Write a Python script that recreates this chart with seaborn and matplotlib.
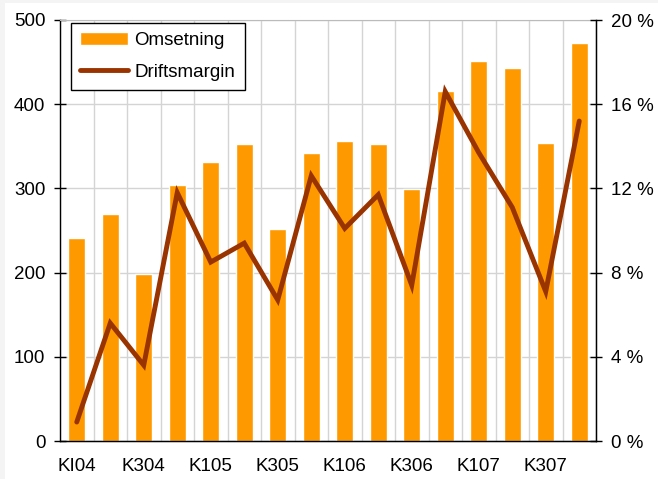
import numpy as np
import pandas as pd
import matplotlib
matplotlib.use('Agg')
import matplotlib.pyplot as plt
import seaborn as sns
from matplotlib.ticker import FuncFormatter, FixedLocator
from matplotlib.patches import Rectangle

# Quarterly data
quarters = ['KI04', 'K204', 'K304', 'K404', 'K105', 'K205', 'K305', 'K405',
            'K106', 'K206', 'K306', 'K406', 'K107', 'K207', 'K307', 'K407']
omsetning = [241, 270, 198, 304, 331, 353, 252, 342,
             356, 353, 299, 416, 451, 443, 354, 473]
driftsmargin = [0.9, 5.6, 3.6, 11.8, 8.5, 9.4, 6.7, 12.6,
                10.1, 11.7, 7.4, 16.6, 13.7, 11.1, 7.1, 15.2]

df = pd.DataFrame({'kvartal': quarters, 'omsetning': omsetning,
                   'margin': driftsmargin, 'pos': np.arange(len(quarters))})

sns.set_style('white')
plt.rcParams['font.family'] = ['Liberation Sans', 'DejaVu Sans']
plt.rcParams['text.color'] = 'black'
plt.rcParams['xtick.color'] = 'black'
plt.rcParams['ytick.color'] = 'black'
FS = 13.5

fig = plt.figure(figsize=(6.58, 4.79), dpi=100, facecolor='#f4f4f4')
# white canvas with a thin grey frame on top/left, as in the screenshot
fig.patches.append(Rectangle((5 / 658, 0), 1, 1 - 3 / 479, transform=fig.transFigure,
                             facecolor='white', edgecolor='none', zorder=-10))
ax = fig.add_axes([60 / 658, 1 - 441 / 479, 536 / 658, 421 / 479])

sns.barplot(data=df, x='kvartal', y='omsetning', color='#FF9900', saturation=1,
            width=0.5, ax=ax, label='Omsetning')
ax.set_xlim(-0.5, len(quarters) - 0.5)
ax.set_ylim(0, 500)
ax.set_yticks(range(0, 501, 100))
ax.set_xlabel('')
ax.set_ylabel('')

# category boundaries as minor ticks/grid, labels on every other bar
ax.xaxis.set_minor_locator(FixedLocator(np.arange(-0.5, len(quarters), 1)))
ax.set_xticks(np.arange(0, len(quarters), 2))
ax.set_xticklabels(quarters[::2])
ax.tick_params(axis='x', which='major', length=0, pad=12, labelsize=FS)
ax.tick_params(axis='x', which='minor', direction='inout', length=7, width=1, color='black')
ax.tick_params(axis='y', direction='inout', length=9, width=1, color='black', labelsize=FS, pad=6)
ax.grid(True, axis='x', which='minor', color='#d4d4d4', lw=1)
ax.grid(True, axis='y', which='major', color='#d4d4d4', lw=1)
ax.set_axisbelow(True)
ax.patch.set_alpha(0)
for s in ['left', 'bottom', 'right']:
    ax.spines[s].set_color('black')
    ax.spines[s].set_linewidth(1)
ax.spines['top'].set_color('#bbbbbb')

ax2 = ax.twinx()
sns.lineplot(data=df, x='pos', y='margin', color='#993300', lw=3.5, ax=ax2,
             label='Driftsmargin', solid_capstyle='round', solid_joinstyle='miter')
ax2.set_ylim(0, 20)
ax2.set_yticks(range(0, 21, 4))
ax2.yaxis.set_major_formatter(FuncFormatter(lambda v, p: f'{int(v)} %'))
ax2.tick_params(axis='y', direction='inout', length=9, width=1, color='black', labelsize=FS, pad=6)
ax2.set_ylabel('')
ax2.set_xlabel('')
ax2.set_xlim(-0.5, len(quarters) - 0.5)
for s in ['left', 'top']:
    ax2.spines[s].set_visible(False)
ax2.spines['right'].set_color('black')
ax2.spines['bottom'].set_color('black')

h1, l1 = ax.get_legend_handles_labels()
h2, l2 = ax2.get_legend_handles_labels()
if ax.get_legend():
    ax.get_legend().remove()
leg = ax2.legend(h1 + h2, l1 + l2, loc='upper left', bbox_to_anchor=(0.02, 0.993),
                 borderaxespad=0, fancybox=False, framealpha=1, edgecolor='black',
                 fontsize=FS, handlelength=2.55, handletextpad=0.35,
                 labelspacing=0.75, borderpad=0.5)
leg.get_frame().set_linewidth(1)

fig.savefig('out.png', dpi=100, facecolor=fig.get_facecolor())
